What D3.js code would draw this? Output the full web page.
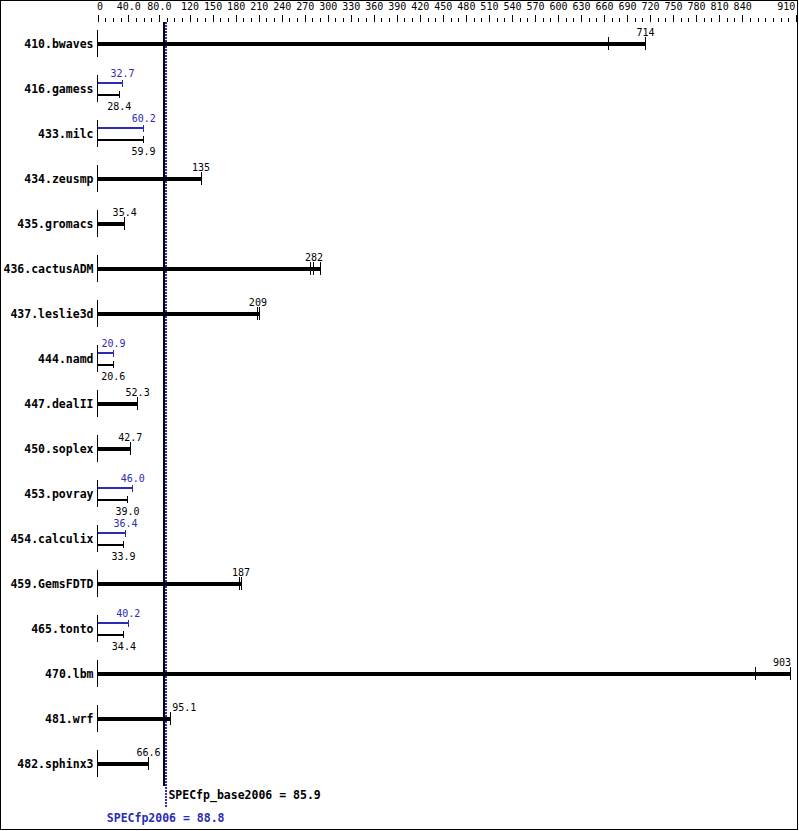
<!DOCTYPE html>
<html><head><meta charset="utf-8">
<script src="https://cdn.jsdelivr.net/npm/d3@7/dist/d3.min.js"></script>
<style>
body{margin:0;background:#fff}
svg{display:block}
text{font-family:"DejaVu Sans Mono","Liberation Mono",monospace}
</style>
</head><body>
<script>
const benchmarks = ["410.bwaves","416.gamess","433.milc","434.zeusmp","435.gromacs","436.cactusADM","437.leslie3d","444.namd","447.dealII","450.soplex","453.povray","454.calculix","459.GemsFDTD","465.tonto","470.lbm","481.wrf","482.sphinx3"];
const baseScores = [714,28.4,59.9,135,35.4,282,209,20.6,52.3,42.7,39.0,33.9,187,34.4,903,95.1,66.6];
const peakScores = [null,32.7,60.2,null,null,null,null,20.9,null,null,46.0,36.4,null,40.2,null,null,null];
const baseRunsExtra = [[666],[],[],[],[],[278,290],[211],[],[],[],[38.5],[],[185],[],[857],[],[]];
const majorTicks = [0,40,80,120,150,180,210,240,270,300,330,360,390,420,450,480,510,540,570,600,630,660,690,720,750,780,810,840,910];
const majorLabels = ["0","40.0","80.0","120","150","180","210","240","270","300","330","360","390","420","450","480","510","540","570","600","630","660","690","720","750","780","810","840","910"];
const minorTicks = d3.range(0, 911, 10);
const specBase = 85.9, specPeak = 88.8;
const baseLabel = "SPECfp_base2006 = 85.9", peakLabel = "SPECfp2006 = 88.8";

const W = 799, H = 831;
const BLUE = "#2b2bb4";
const svg = d3.select("body").append("svg").attr("width", W).attr("height", H);
svg.append("rect").attr("x",0.5).attr("y",0.5).attr("width",797).attr("height",829)
  .attr("fill","#fff").attr("stroke","#000").attr("stroke-width",1);

const x = d3.scaleLinear().domain([0,903]).range([97.5,790.5]);

// top axis
const axisY = 22;
const gMinor = svg.append("g").attr("transform",`translate(0,${axisY})`)
  .call(d3.axisTop(x).tickValues(minorTicks).tickSize(4).tickFormat(""));
gMinor.select(".domain").remove();
const gMajor = svg.append("g").attr("transform",`translate(0,${axisY})`)
  .call(d3.axisTop(x).tickValues(majorTicks).tickSize(7).tickPadding(5)
    .tickFormat((d,i)=>majorLabels[i]));
gMajor.select(".domain").remove();
svg.selectAll(".tick line").attr("stroke","#000").attr("shape-rendering","crispEdges");
gMajor.selectAll(".tick text").attr("font-size",10).attr("fill","#000")
  .attr("font-family","'DejaVu Sans Mono',monospace")
  .attr("text-anchor",(d,i)=> i===0 ? "start" : (i===majorTicks.length-1 ? "end" : "middle"))
  .attr("dx",(d,i)=> i===0 ? -1 : (i===majorTicks.length-1 ? -1 : 0));

// reference lines
const refL = x(specBase)-2.5, refR = x(specPeak)+2.5;
svg.append("line").attr("x1",x(specBase)+0.6).attr("x2",x(specBase)+0.6)
  .attr("y1",22).attr("y2",786).attr("stroke","#000").attr("stroke-width",2).attr("shape-rendering","crispEdges");
svg.append("line").attr("x1",x(specPeak)+0.35).attr("x2",x(specPeak)+0.35)
  .attr("y1",22).attr("y2",807).attr("stroke",BLUE).attr("stroke-width",2)
  .attr("stroke-dasharray","2,1").attr("shape-rendering","crispEdges");

svg.append("text").attr("x",x(specBase)+5).attr("y",799).attr("font-size",11.5).attr("font-weight","bold")
  .attr("fill","#000").text(baseLabel);
svg.append("text").attr("x",x(specPeak)).attr("y",821.5).attr("font-size",11.5).attr("font-weight","bold")
  .attr("fill",BLUE).attr("text-anchor","middle").text(peakLabel);

function valueLabel(g, v, yy, color, str){
  const w = str.length*6.02;
  let px = x(v), anchor = "middle";
  if (px + w/2 > 791) { px = 791; anchor = "end"; }
  else if (px + w/2 > refL && px - w/2 < refR) { px = refR + 4; anchor = "start"; }
  g.append("text").attr("x",px).attr("y",yy).attr("text-anchor",anchor)
    .attr("font-size",10).attr("fill",color).text(str);
}

const rows = svg.append("g").selectAll("g").data(benchmarks).join("g");
rows.each(function(b,i){
  const g = d3.select(this);
  const c = 43.5 + 45*i;
  g.append("text").attr("x",93.5).attr("y",c+4).attr("text-anchor","end")
    .attr("font-size",11.5).attr("font-weight","bold").attr("fill","#000").text(b);
  g.append("line").attr("x1",x(0)).attr("x2",x(0)).attr("y1",c-13.5).attr("y2",c+13.5)
    .attr("stroke","#000").attr("stroke-width",1).attr("shape-rendering","crispEdges");
  const base = baseScores[i], peak = peakScores[i];
  const runs = [base].concat(baseRunsExtra[i]);
  const end = d3.max(runs);
  if (peak === null) {
    g.append("rect").attr("x",x(0)).attr("y",c-2).attr("width",x(end)-x(0)).attr("height",4)
      .attr("fill","#000").attr("shape-rendering","crispEdges");
    runs.forEach(r=>{
      g.append("line").attr("x1",x(r)).attr("x2",x(r)).attr("y1",c-6.5).attr("y2",c+6.5)
        .attr("stroke","#000").attr("stroke-width",1).attr("shape-rendering","crispEdges");
    });
    valueLabel(g, base, c-7.5, "#000", d3.format(base>=100?".0f":".1f")(base));
  } else {
    const py = c-5.5, by = c+6;
    g.append("rect").attr("x",x(0)).attr("y",py-1).attr("width",x(peak)-x(0)).attr("height",2)
      .attr("fill",BLUE).attr("shape-rendering","crispEdges");
    g.append("line").attr("x1",x(peak)).attr("x2",x(peak)).attr("y1",py-3.5).attr("y2",py+3.5)
      .attr("stroke",BLUE).attr("stroke-width",1).attr("shape-rendering","crispEdges");
    g.append("rect").attr("x",x(0)).attr("y",by-1).attr("width",x(end)-x(0)).attr("height",2)
      .attr("fill","#000").attr("shape-rendering","crispEdges");
    runs.forEach(r=>{
      g.append("line").attr("x1",x(r)).attr("x2",x(r)).attr("y1",by-3.5).attr("y2",by+3.5)
        .attr("stroke","#000").attr("stroke-width",1).attr("shape-rendering","crispEdges");
    });
    valueLabel(g, peak, c-12, BLUE, d3.format(".1f")(peak));
    valueLabel(g, base, c+21, "#000", d3.format(".1f")(base));
  }
});
</script>
</body></html>
